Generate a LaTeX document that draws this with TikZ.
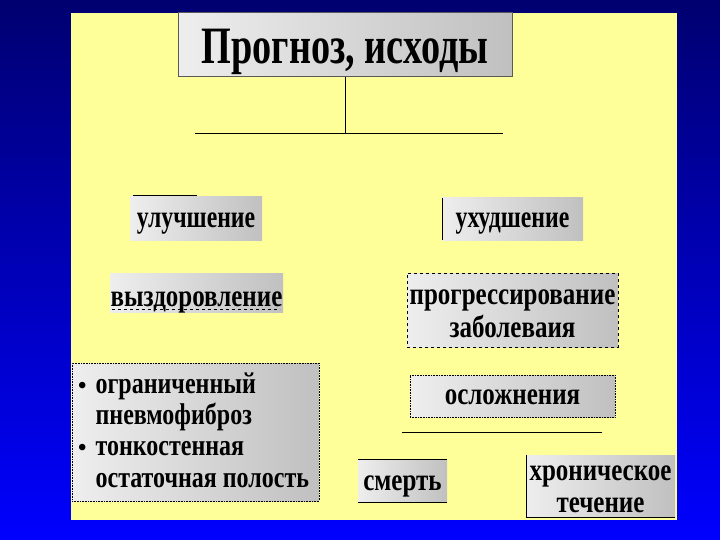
\documentclass[tikz,border=0pt]{standalone}
\usepackage{fontspec}
\usepackage{graphicx}
\setmainfont{Liberation Serif}
\definecolor{bgtop}{RGB}{0,0,112}
\definecolor{bgbot}{RGB}{0,0,255}
\definecolor{pale}{RGB}{255,255,153}
\definecolor{boxl}{RGB}{238,238,238}
\definecolor{boxr}{RGB}{192,192,192}
\newcommand\tallt[1]{\scalebox{1}[1.25]{#1}}
\begin{document}
\begin{tikzpicture}[x=1pt,y=-1pt,
  box/.style={left color=boxl, right color=boxr, inner sep=0pt},
  label/.style={anchor=base, inner sep=0pt, font=\fontsize{25}{30}\selectfont\bfseries},
  edge/.style={line width=0.8pt, black},
  thin/.style={line width=0.6pt, black}]
\useasboundingbox (0,0) rectangle (720,540);
\shade[top color=bgtop, bottom color=bgbot] (0,0) rectangle (720,540);
\fill[pale] (71,13) rectangle (677,520);
% title
\node[box, draw=gray!70!black, line width=1pt, minimum width=334pt, minimum height=64pt] (title) at (345,45) {};
\node[label, font=\fontsize{42}{44}\selectfont\bfseries] (titletext) at (345,64) {\scalebox{0.91}[1.25]{Прогноз, исходы}};
\coordinate (split) at (345,133);
\coordinate (hl) at (195,133);
\coordinate (hr) at (503,133);
\draw[edge] (title.south) -- (split);
\draw[edge] (hl) -- (hr);
% left branch
\node[box, minimum width=132pt, minimum height=43pt] (better) at (196,218.5) {};
\node[label] (bettertext) at (196,227) {\scalebox{0.95}[1.25]{улучшение}};
\node[box, minimum width=173pt, minimum height=39pt] (recovery) at (196.5,292.5) {};
\node[label] (recoverytext) at (196.5,306) {\tallt{выздоровление}};
\node[box, draw=black, densely dotted, line width=0.6pt, minimum width=247pt, minimum height=138pt] (residual) at (195.5,432) {};
\node[anchor=base west, inner sep=0pt, font=\fontsize{24}{31}\selectfont\bfseries] (restext) at (78,393)
  {\begin{tabular}[t]{@{}l@{\hspace{9pt}}l@{}}
   \textbullet & \tallt{ограниченный}\\
   & \tallt{пневмофиброз}\\
   \textbullet & \tallt{тонкостенная}\\[1pt]
   & \tallt{остаточная полость}
   \end{tabular}};
% right branch
\node[box, minimum width=141pt, minimum height=42pt] (worse) at (512.5,219) {};
\node[label] (worsetext) at (512.5,227) {\scalebox{0.95}[1.25]{ухудшение}};
\node[box, draw=black, dashed, line width=0.6pt, minimum width=211pt, minimum height=74pt] (progress) at (512.5,310) {};
\node[label] (progresstexta) at (512.5,304) {\tallt{прогрессирование}};
\node[label] (progresstextb) at (512.5,337) {\tallt{заболеваия}};
\node[box, draw=black, densely dotted, line width=0.6pt, minimum width=205pt, minimum height=42pt] (compl) at (512.5,396) {};
\node[label] (compltext) at (512.5,404) {\tallt{осложнения}};
\coordinate (cl) at (402,432);
\coordinate (cr) at (602,432);
\draw[thin] (cl) -- (cr);
\node[box, minimum width=89pt, minimum height=43pt] (death) at (402.5,480.5) {};
\node[label] (deathtext) at (402.5,490) {\tallt{смерть}};
\node[box, minimum width=149pt, minimum height=62pt] (chronic) at (600.5,486) {};
\node[label] (chronictexta) at (600.5,480) {\tallt{хроническое}};
\node[label] (chronictextb) at (600.5,512) {\tallt{течение}};
% edge accents of the boxes
\draw[thin] (better.north west) ++(3,-1) -- ++(64,0);
\draw[thin] (worse.north west) -- (worse.south west);
\draw[thin] (death.north west) -- (death.north east);
\draw[thin] (death.south west) -- (death.south east);
\draw[thin] (chronic.north west) -- (chronic.south west) -- (chronic.south east);
\draw[thin, dashed] (recovery.south west) ++(2,-3) -- ++(168,0);
\end{tikzpicture}
\end{document}
